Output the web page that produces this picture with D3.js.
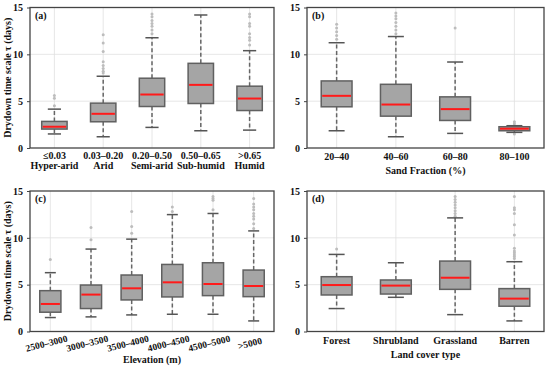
<!DOCTYPE html>
<html>
<head>
<meta charset="UTF-8">
<title>Drydown time scale boxplots</title>
<style>
    body { margin: 0; background: #fff; }
    text { font-family: "Liberation Serif", "Times New Roman", serif; font-weight: bold; fill: #111; }
</style>
</head>
<body>
<script src="https://cdn.jsdelivr.net/npm/d3@7"></script>
<script>
    // box stats: [lower whisker, q1, median, q3, upper whisker]
    var aridityCats = [["≤0.03", "Hyper-arid"], ["0.03–0.20", "Arid"], ["0.20–0.50", "Semi-arid"], ["0.50–0.65", "Sub-humid"], [">0.65", "Humid"]];
    var aridityStats = [[1.5, 2.02, 2.27, 2.84, 4.15], [1.2, 2.8, 3.65, 4.79, 7.66], [2.2, 4.43, 5.71, 7.45, 11.77], [1.84, 4.75, 6.74, 9.04, 14.2], [1.91, 4.0, 5.28, 6.6, 10.39]];
    var aridityOutliers = [[4.5, 5.3, 5.6], [8.0, 8.2, 8.5, 8.8, 9.2, 10.3, 11.2, 12.1], [12.2, 12.6, 13.0, 13.3, 13.6, 14.0, 14.3], [], [11.0, 11.5, 11.8, 12.2, 13.0, 13.3, 14.0, 14.3]];

    var sandCats = ["20–40", "40–60", "60–80", "80–100"];
    var sandStats = [[1.84, 4.4, 5.57, 7.16, 11.24], [1.2, 3.4, 4.64, 6.8, 11.9], [1.56, 2.94, 4.15, 5.46, 9.18], [1.67, 1.84, 2.06, 2.27, 2.38]];
    var sandOutliers = [[11.6, 12.0, 12.4, 12.8, 13.2], [12.2, 12.6, 13.0, 13.4, 13.8, 14.1, 14.4], [12.8], [1.5, 2.6, 2.8]];

    var elevCats = ["2500–3000", "3000–3500", "3500–4000", "4000–4500", "4500–5000", ">5000"];
    var elevStats = [[1.49, 2.06, 2.94, 4.36, 6.28], [1.56, 2.45, 3.94, 4.96, 8.8], [1.77, 3.37, 4.61, 6.03, 9.86], [1.84, 3.69, 5.25, 7.16, 12.48], [1.84, 3.83, 5.07, 7.34, 12.6], [1.13, 3.72, 4.86, 6.56, 10.74]];
    var elevOutliers = [[7.7], [9.8, 11.1], [10.5, 11.2, 12.8], [12.8, 13.3], [13.0, 14.0, 14.2, 14.4], [11.0, 11.5, 12.0, 12.3, 12.6, 13.0, 13.3, 13.6, 14.2]];

    var landCats = ["Forest", "Shrubland", "Grassland", "Barren"];
    var landStats = [[2.45, 3.9, 4.96, 5.85, 8.23], [3.65, 4.0, 4.9, 5.5, 7.34], [1.8, 4.5, 5.74, 7.52, 12.13], [1.13, 2.7, 3.51, 4.58, 7.45]];
    var landOutliers = [[8.8], [], [12.3, 12.6, 12.9, 13.2, 13.5, 13.8, 14.1, 14.4], [7.8, 8.0, 8.2, 8.4, 8.6, 8.9, 10.3, 11.4, 12.6, 13.0, 13.2, 14.4]];

    var yTicks = [0, 5, 10, 15];

    var svg = d3.select("body").append("svg")
        .attr("width", 550)
        .attr("height", 372);

    var panels = [
        {tag: "(a)", cats: aridityCats, stats: aridityStats, out: aridityOutliers, x0: 30, x1: 274, y0: 7.5, y1: 148, ylab: true, xlab: null, rot: false},
        {tag: "(b)", cats: sandCats, stats: sandStats, out: sandOutliers, x0: 307, x1: 544, y0: 7.5, y1: 148, ylab: false, xlab: "Sand Fraction (%)", rot: false},
        {tag: "(c)", cats: elevCats, stats: elevStats, out: elevOutliers, x0: 30, x1: 274, y0: 191, y1: 331.5, ylab: true, xlab: "Elevation (m)", rot: true},
        {tag: "(d)", cats: landCats, stats: landStats, out: landOutliers, x0: 307, x1: 544, y0: 191, y1: 331.5, ylab: false, xlab: "Land cover type", rot: false}
    ];

    panels.forEach(function (p) {
        var idx = d3.range(p.cats.length);
        var x = d3.scalePoint().domain(idx).range([p.x0, p.x1]).padding(0.5);
        var y = d3.scaleLinear().domain([0, 15]).range([p.y1, p.y0]);
        var step = x.step();
        var bw = step * 0.52, cw = step * 0.27;
        var g = svg.append("g");

        // grid
        g.selectAll(".hg").data([5, 10]).enter().append("line")
            .attr("x1", p.x0).attr("x2", p.x1)
            .attr("y1", function (d) { return y(d); }).attr("y2", function (d) { return y(d); })
            .attr("stroke", "#e0e0e0").attr("stroke-width", 0.8);
        g.selectAll(".vg").data(idx).enter().append("line")
            .attr("x1", function (d) { return x(d); }).attr("x2", function (d) { return x(d); })
            .attr("y1", p.y0).attr("y2", p.y1)
            .attr("stroke", "#e0e0e0").attr("stroke-width", 0.8);

        // outliers
        idx.forEach(function (i) {
            g.selectAll(".o" + i).data(p.out[i]).enter().append("circle")
                .attr("cx", x(i)).attr("cy", function (d) { return y(d); })
                .attr("r", 1.5).attr("fill", "#bdbdbd");
        });

        // whiskers
        var wk = g.selectAll(".wk").data(idx).enter().append("g");
        wk.append("line")
            .attr("x1", function (d) { return x(d); }).attr("x2", function (d) { return x(d); })
            .attr("y1", function (d) { return y(p.stats[d][3]); }).attr("y2", function (d) { return y(p.stats[d][4]); })
            .attr("stroke", "#666").attr("stroke-width", 1.5).attr("stroke-dasharray", "4,2.5");
        wk.append("line")
            .attr("x1", function (d) { return x(d); }).attr("x2", function (d) { return x(d); })
            .attr("y1", function (d) { return y(p.stats[d][1]); }).attr("y2", function (d) { return y(p.stats[d][0]); })
            .attr("stroke", "#666").attr("stroke-width", 1.5).attr("stroke-dasharray", "4,2.5");
        [0, 4].forEach(function (k) {
            wk.append("line")
                .attr("x1", function (d) { return x(d) - cw / 2; }).attr("x2", function (d) { return x(d) + cw / 2; })
                .attr("y1", function (d) { return y(p.stats[d][k]); }).attr("y2", function (d) { return y(p.stats[d][k]); })
                .attr("stroke", "#555").attr("stroke-width", 1.5);
        });

        // boxes
        g.selectAll(".bx").data(idx).enter().append("rect")
            .attr("x", function (d) { return x(d) - bw / 2; })
            .attr("width", bw)
            .attr("y", function (d) { return y(p.stats[d][3]); })
            .attr("height", function (d) { return y(p.stats[d][1]) - y(p.stats[d][3]); })
            .attr("fill", "#a5a5a5").attr("stroke", "#606060").attr("stroke-width", 1.5);
        g.selectAll(".md").data(idx).enter().append("line")
            .attr("x1", function (d) { return x(d) - bw / 2 + 1; }).attr("x2", function (d) { return x(d) + bw / 2 - 1; })
            .attr("y1", function (d) { return y(p.stats[d][2]); }).attr("y2", function (d) { return y(p.stats[d][2]); })
            .attr("stroke", "#ff1a1a").attr("stroke-width", 2);

        // frame
        g.append("rect")
            .attr("x", p.x0).attr("y", p.y0)
            .attr("width", p.x1 - p.x0).attr("height", p.y1 - p.y0)
            .attr("fill", "none").attr("stroke", "#444").attr("stroke-width", 1.3);

        // y axis
        var ya = g.append("g")
            .attr("transform", "translate(" + p.x0 + ",0)")
            .call(d3.axisLeft(y).tickValues(yTicks).tickSize(3).tickPadding(4));
        ya.select(".domain").remove();
        ya.selectAll("line").attr("stroke", "#444");
        ya.selectAll("text").style("font-size", "10px").attr("fill", "#111");

        // x axis
        var xa = g.append("g")
            .attr("transform", "translate(0," + p.y1 + ")")
            .call(d3.axisBottom(x).tickSize(0).tickFormat(""));
        xa.select(".domain").remove();
        idx.forEach(function (i) {
            var c = p.cats[i];
            if (Array.isArray(c)) {
                var t = g.append("text").attr("text-anchor", "middle").style("font-size", "10px");
                t.append("tspan").attr("x", x(i)).attr("y", p.y1 + 11).text(c[0]);
                t.append("tspan").attr("x", x(i)).attr("y", p.y1 + 21).text(c[1]);
            } else if (p.rot) {
                g.append("text").attr("text-anchor", "middle").style("font-size", "9.5px")
                    .attr("transform", "translate(" + (x(i) - 3) + "," + (p.y1 + 15) + ") rotate(-14)")
                    .text(c);
            } else {
                g.append("text").attr("text-anchor", "middle").style("font-size", "10px")
                    .attr("x", x(i)).attr("y", p.y1 + 12).text(c);
            }
        });

        if (p.xlab) {
            g.append("text").attr("text-anchor", "middle").style("font-size", "10px")
                .attr("x", (p.x0 + p.x1) / 2).attr("y", p.rot ? p.y1 + 31 : p.y1 + 26)
                .text(p.xlab);
        }
        if (p.ylab) {
            g.append("text").attr("text-anchor", "middle").style("font-size", "10px")
                .attr("transform", "translate(11," + ((p.y0 + p.y1) / 2) + ") rotate(-90)")
                .text("Drydown time scale τ (days)");
        }
        g.append("text").style("font-size", "10px")
            .attr("x", p.x0 + 5).attr("y", p.y0 + 11).text(p.tag);
    });
</script>
</body>
</html>
